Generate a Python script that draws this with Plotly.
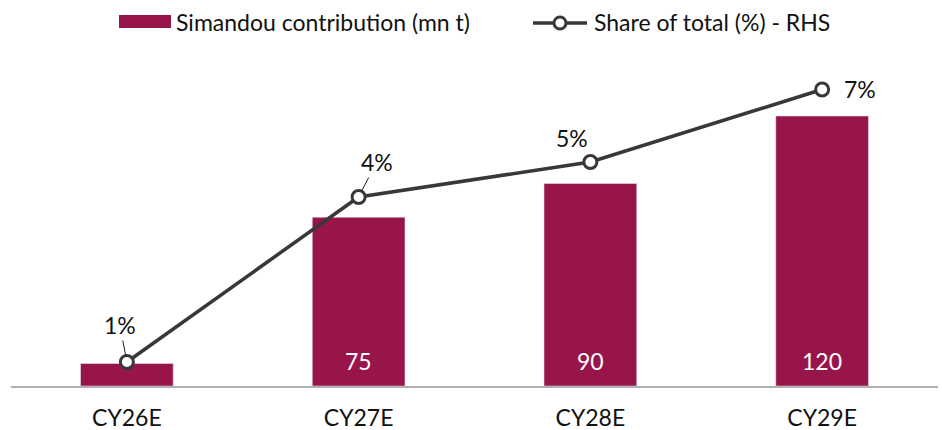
import plotly.graph_objects as go

categories = ["CY26E", "CY27E", "CY28E", "CY29E"]
contribution = [10, 75, 90, 120]          # mn t
share = [1.1, 4.4, 5.1, 6.55]             # % of total (RHS)
share_labels = ["1%", "4%", "5%", "7%"]

BAR = "#98154b"
LINE = "#383838"
FONT = "Lato"
FS = 23

fig = go.Figure()
fig.add_trace(go.Bar(x=categories, y=contribution, marker_color=BAR, width=0.4,
                     showlegend=False, hoverinfo="skip"))
fig.add_trace(go.Scatter(x=categories, y=share, yaxis="y2", mode="lines+markers",
                         line=dict(color=LINE, width=3.5),
                         marker=dict(size=13, color="white", line=dict(color=LINE, width=3)),
                         showlegend=False, hoverinfo="skip"))

ann = []
# bar value labels (inside, near base)
for c, v in zip(categories, contribution):
    if v >= 20:
        ann.append(dict(x=c, y=0, xref="x", yref="y", text=str(v), showarrow=False,
                        yanchor="bottom", yshift=9, font=dict(family=FONT, size=FS, color="white")))
# share labels
offsets = [(-7, -37, True), (18, -35, True), (-18, 24, False), (38, 1, False)]
for c, v, t, (dx, dy, arrow) in zip(categories, share, share_labels, offsets):
    if arrow:
        ann.append(dict(x=c, y=v, xref="x", yref="y2", text=t, showarrow=True,
                        arrowhead=0, arrowwidth=1, arrowcolor="#222", ax=dx, ay=dy,
                        standoff=6, font=dict(family=FONT, size=FS, color="#111")))
    else:
        ann.append(dict(x=c, y=v, xref="x", yref="y2", text=t, showarrow=False,
                        xshift=dx, yshift=dy, font=dict(family=FONT, size=FS, color="#111")))

# custom legend
shapes = [
    dict(type="rect", xref="paper", yref="paper", x0=(119-11)/927, x1=(171-11)/927,
         y0=(386-28)/315, y1=(386-15)/315, fillcolor=BAR, line=dict(width=0)),
    dict(type="line", xref="paper", yref="paper", x0=(533-11)/927, x1=(587-11)/927,
         y0=(386-23)/315, y1=(386-23)/315, line=dict(color=LINE, width=3.5)),
    dict(type="circle", xref="paper", yref="paper", x0=(554-11)/927, x1=(566-11)/927,
         y0=(386-29)/315, y1=(386-17)/315, fillcolor="white", line=dict(color=LINE, width=3)),
]
ann.append(dict(x=(174-11)/927, y=(386-22)/315, xref="paper", yref="paper",
                text="Simandou contribution (mn t)", showarrow=False, xanchor="left",
                yanchor="middle", font=dict(family=FONT, size=FS, color="#111")))
ann.append(dict(x=(592-11)/927, y=(386-22)/315, xref="paper", yref="paper",
                text="Share of total (%) - RHS", showarrow=False, xanchor="left",
                yanchor="middle", font=dict(family=FONT, size=FS, color="#111")))

fig.update_layout(
    width=942, height=430,
    margin=dict(l=11, r=4, t=71, b=44),
    paper_bgcolor="white", plot_bgcolor="white",
    font=dict(family=FONT, size=FS, color="#111"),
    xaxis=dict(showline=True, linecolor="#b0b0b0", linewidth=2, ticks="",
               tickfont=dict(family=FONT, size=FS, color="#111"), range=[-0.5, 3.5],
               automargin=False, ticklabelstandoff=10),
    yaxis=dict(range=[0, 140], visible=False),
    yaxis2=dict(range=[0.62, 6.92], overlaying="y", side="right", visible=False),
    annotations=ann, shapes=shapes, showlegend=False,
)
fig.write_html("out.html", config={"displayModeBar": False},
               post_script="document.body.style.margin='0';")
